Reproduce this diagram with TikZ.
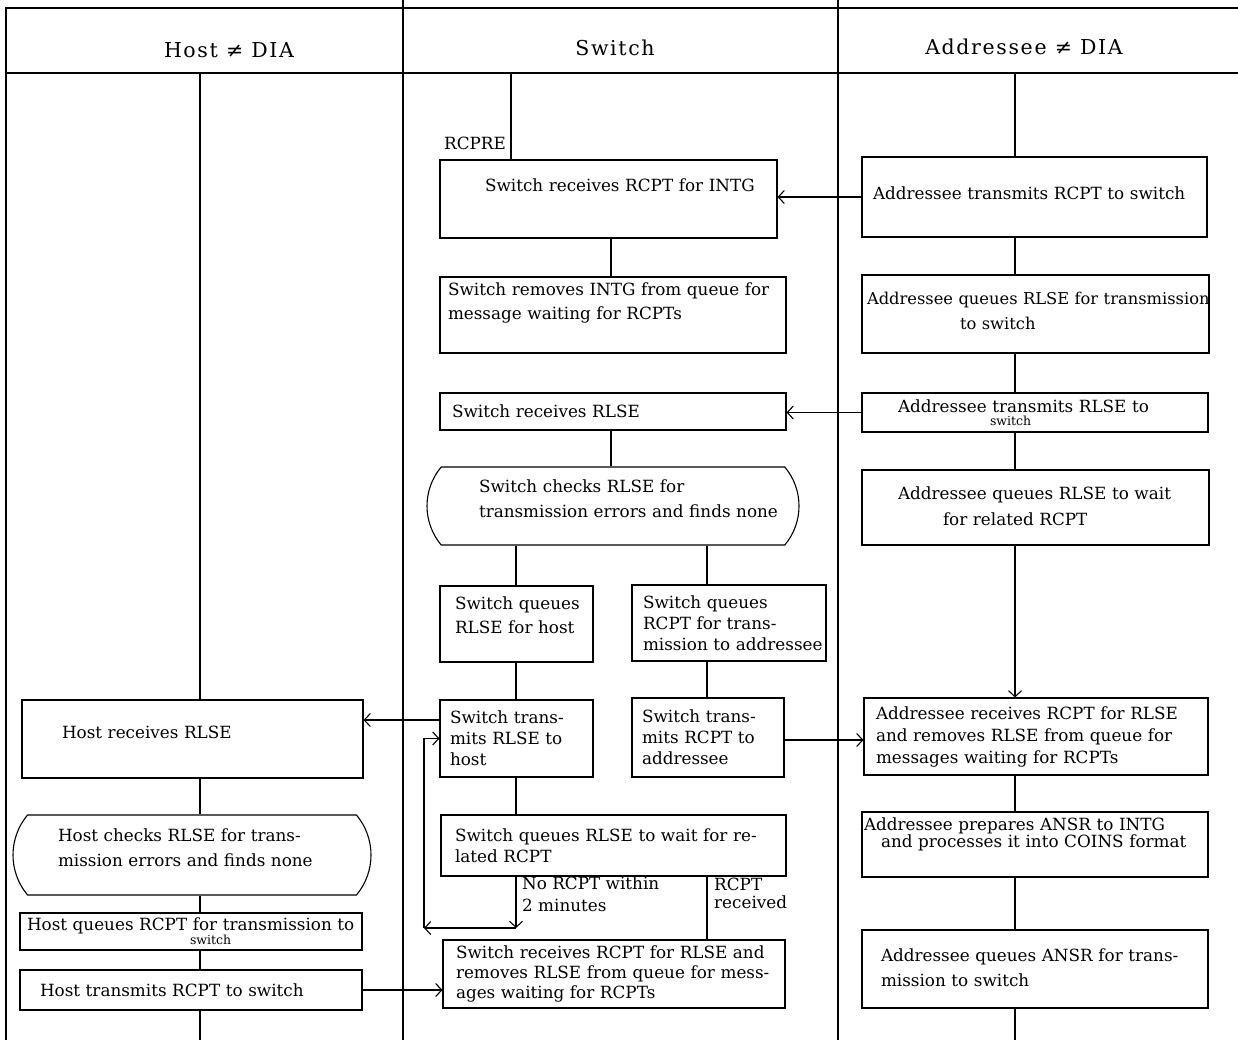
\documentclass[tikz,border=0pt]{standalone}
\usepackage{fontspec}
\setmainfont{DejaVu Serif}
\newfontfamily\hdfont[LetterSpace=8]{DejaVu Serif}
\usetikzlibrary{arrows.meta,shapes.misc}
\newcommand\lsk[1]{\leftskip=#1pt\rightskip=0pt minus 60pt\relax}
\newcommand\up[1]{\par\vspace*{#1pt}\hrule height 0pt\relax}
\newcommand\smallsw{\fontsize{12.5}{12.5}\selectfont}
\begin{document}
\begin{tikzpicture}[x=1pt,y=-1pt,
  every node/.style={font=\fontsize{16.8}{21}\selectfont, inner sep=0pt},
  box/.style={draw, line width=1.1pt, rectangle, align=left},
  term/.style={draw, line width=1.1pt, rounded rectangle, rounded rectangle arc length=80, align=left},
  ln/.style={line width=1.1pt},
  arr/.style={line width=1.1pt, -{Straight Barb[length=6pt,width=13pt]}},
  hd/.style={font=\hdfont\fontsize{20.5}{24}\selectfont},
  lbl/.style={align=left, anchor=north west}]
\useasboundingbox (0,0) rectangle (1238,1040);
% frame and lanes
\draw[line width=1.2pt] (6,1040) -- (6,8) -- (1238,8);
\draw[line width=2pt] (6,73) -- (1238,73);
\draw[line width=1.1pt] (403,0) -- (403,1040);
\draw[line width=1.1pt] (838,0) -- (838,1040);
\node[hd] (hHost) at (229,50) {Host ≠ DIA};
\node[hd] (hSw) at (615,48) {Switch};
\node[hd] (hAd) at (1024,47) {Addressee ≠ DIA};
% helper x coordinates
\coordinate (xH) at (200,0);
\coordinate (xA) at (1015,0);
\coordinate (xS) at (511,0);
\coordinate (xM) at (611,0);
\coordinate (xL) at (516,0);
\coordinate (xR) at (707,0);
\coordinate (topL) at (0,73);
\coordinate (botL) at (0,1040);
% switch lane
\node[box, text width=337, minimum height=78] (S1) at (608.5,199) {\lsk{45}Switch receives RCPT for INTG\up{28}};
\node[box, text width=346, minimum height=76, font=\fontsize{16.8}{24}\selectfont] (S2) at (613,315) {\lsk{8}Switch removes INTG from queue for\\message waiting for RCPTs\up{24}};
\node[box, text width=346, minimum height=37] (S3) at (613,411.5) {\lsk{12}Switch receives RLSE\up{0}};
\node[term, text width=342, minimum width=372, minimum height=78, font=\fontsize{16.8}{25}\selectfont] (S4) at (613,506) {\lsk{37}Switch checks RLSE for\\transmission errors and finds none\up{14}};
\node[box, text width=153, minimum height=76, font=\fontsize{16.8}{24}\selectfont] (S5) at (516.5,624) {\lsk{15}Switch queues\\RLSE for host\up{18}};
\node[box, text width=194, minimum height=76, font=\fontsize{16.8}{21}\selectfont] (S6) at (729,623) {\lsk{11}Switch queues\\RCPT for trans-\\mission to addressee\up{0}};
\node[box, text width=153, minimum height=77] (S7) at (516.5,738.5) {\lsk{10}Switch trans-\\mits RLSE to\\host\up{0}};
\node[box, text width=152, minimum height=79] (S8) at (708,737.5) {\lsk{10}Switch trans-\\mits RCPT to\\addressee\up{0}};
\node[box, text width=345, minimum height=61] (S9) at (613.5,845.5) {\lsk{14}Switch queues RLSE to wait for re-\\lated RCPT\up{0}};
\node[box, text width=342, minimum height=68, font=\fontsize{16.8}{20}\selectfont] (S10) at (614,974) {\lsk{13}Switch receives RCPT for RLSE and\\removes RLSE from queue for mess-\\ages waiting for RCPTs\up{0}};
\node (rcpre) at (475,143) {RCPRE};
\node[lbl, font=\fontsize{16.8}{22}\selectfont] (noR) at (522,877) {No RCPT within\\ 2 minutes};
\node[lbl, font=\fontsize{16.8}{18}\selectfont] (yesR) at (714,878) {RCPT\\received};
% host lane
\node[box, text width=341, minimum height=78] (H1) at (192.5,739) {\lsk{40}Host receives RLSE\up{14}};
\node[term, text width=328, minimum width=358, minimum height=80, font=\fontsize{16.8}{25}\selectfont] (H2) at (192,855) {\lsk{30}Host checks RLSE for trans-\\mission errors and finds none\up{14}};
\node[box, text width=342, minimum height=37] (H3) at (191,931.5) {\lsk{7}Host queues RCPT for transmission to\\[-7pt]\hspace*{163pt}{\smallsw switch}\up{0}};
\node[box, text width=342, minimum height=40] (H4) at (191,990) {\lsk{20}Host transmits RCPT to switch\up{0}};
% addressee lane
\node[box, text width=345, minimum height=80] (A1) at (1034.5,197) {\lsk{11}Addressee transmits RCPT to switch\up{8}};
\node[box, text width=347, minimum height=78, font=\fontsize{16.3}{25}\selectfont] (A2) at (1035.5,314) {\lsk{5}Addressee queues RLSE for transmission\\\hspace*{93pt}to switch\up{6}};
\node[box, text width=346, minimum height=39] (A3) at (1035,412.5) {\lsk{36}Addressee transmits RLSE to\\[-8pt]\hspace*{92pt}{\smallsw switch}\up{0}};
\node[box, text width=347, minimum height=75, font=\fontsize{16.8}{26}\selectfont] (A4) at (1035.5,507.5) {\lsk{36}Addressee queues RLSE to wait\\\hspace*{45pt}for related RCPT\up{2}};
\node[box, text width=344, minimum height=77, font=\fontsize{16.8}{22}\selectfont] (A5) at (1036,736.5) {\lsk{12}Addressee receives RCPT for RLSE\\and removes RLSE from queue for\\messages waiting for RCPTs\up{0}};
\node[box, text width=346, minimum height=65, font=\fontsize{16.8}{17}\selectfont] (A6) at (1035,844.5) {\lsk{2}Addressee prepares ANSR to INTG\\\hspace*{17pt}and processes it into COINS format\up{20}};
\node[box, text width=346, minimum height=78, font=\fontsize{16.8}{25}\selectfont] (A7) at (1035,969) {\lsk{19}Addressee queues ANSR for trans-\\mission to switch\up{3}};
% loop coordinates
\coordinate (loopA) at (516,928);
\coordinate (loopB) at (424,928);
% switch lane connectors
\draw[ln] (xS |- topL) -- (xS |- S1.north);
\draw[ln] (xM |- S1.south) -- (xM |- S2.north);
\draw[ln] (xM |- S3.south) -- (xM |- S4.north);
\draw[ln] (xL |- S4.south) -- (xL |- S5.north);
\draw[ln] (xR |- S4.south) -- (xR |- S6.north);
\draw[ln] (xL |- S5.south) -- (xL |- S7.north);
\draw[ln] (xR |- S6.south) -- (xR |- S8.north);
\draw[ln] (xL |- S7.south) -- (xL |- S9.north);
\draw[arr] (xL |- S9.south) -- (loopA);
\draw[arr] (loopA) -- (loopB);
\draw[arr] (loopB) |- (S7.west);
\draw[ln] (xR |- S9.south) -- (xR |- S10.north);
% host lane connectors
\draw[ln] (xH |- topL) -- (xH |- H1.north);
\draw[ln] (xH |- H1.south) -- (xH |- H2.north);
\draw[ln] (xH |- H2.south) -- (xH |- H3.north);
\draw[ln] (xH |- H3.south) -- (xH |- H4.north);
\draw[ln] (xH |- H4.south) -- (xH |- botL);
% addressee lane connectors
\draw[ln] (xA |- topL) -- (xA |- A1.north);
\draw[ln] (xA |- A1.south) -- (xA |- A2.north);
\draw[ln] (xA |- A2.south) -- (xA |- A3.north);
\draw[ln] (xA |- A3.south) -- (xA |- A4.north);
\draw[arr] (xA |- A4.south) -- (xA |- A5.north);
\draw[ln] (xA |- A5.south) -- (xA |- A6.north);
\draw[ln] (xA |- A6.south) -- (xA |- A7.north);
\draw[ln] (xA |- A7.south) -- (xA |- botL);
% cross-lane arrows
\draw[arr] (A1.west) -- (A1.west -| S1.east);
\draw[arr] (A3.west) -- (A3.west -| S3.east);
\draw[arr] ([yshift=18.5pt]S7.west) -- ([yshift=18.5pt]S7.west -| H1.east);
\draw[arr] ([yshift=-2.5pt]S8.east) -- ([yshift=-2.5pt]S8.east -| A5.west);
\draw[arr] (H4.east) -- (H4.east -| S10.west);
\end{tikzpicture}
\end{document}
